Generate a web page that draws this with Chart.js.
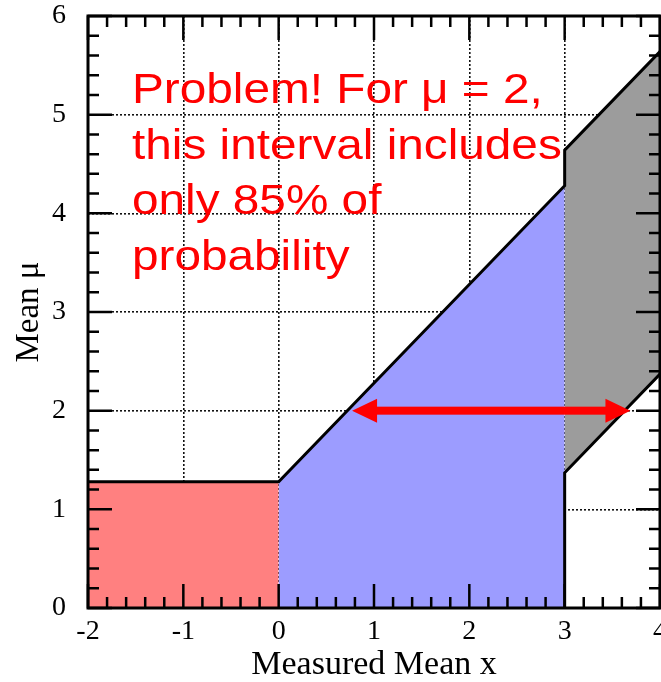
<!DOCTYPE html>
<html lang="en">
<head>
  <meta charset="UTF-8">
  <title>Confidence belt - Mean μ vs Measured Mean x</title>
  <script src="https://cdn.jsdelivr.net/npm/chart.js"></script>
  <style>
    html, body { margin: 0; padding: 0; background: #fff; }
    #wrap { width: 661px; height: 682px; }
  </style>
</head>
<body>
  <div id="wrap"><canvas id="beltChart"></canvas></div>

  <script>
    // upper edge of the belt: flat for x < 0, diagonal, then a jump at x = 3
    const xUpper = [-2, 0, 3, 3, 4];
    const muUpper = [1.28, 1.28, 4.28, 4.64, 5.64];
    // lower edge only starts at x = 3
    const xLower = [3, 3, 4];
    const muLower = [0, 1.37, 2.37];
    // horizontal arrow showing the interval at mu = 2
    const arrowMu = 2;
    const arrowX = [0.77, 3.69];
    const xTicks = [-2, -1, 0, 1, 2, 3, 4];
    const muTicks = [0, 1, 2, 3, 4, 5, 6];
    const noteLines = ['Problem! For μ = 2,', 'this interval includes', 'only 85% of', 'probability'];

    const pts = (xs, ys) => xs.map((x, i) => ({ x: x, y: ys[i] }));
    const upper = pts(xUpper, muUpper);
    const lower = pts(xLower, muLower);
    const clear = 'rgba(0,0,0,0)';

    // frame with inward major/minor ticks on all four sides, then arrow and note
    const decorations = {
      id: 'decorations',
      afterDraw(chart) {
        const { ctx, chartArea: a, scales } = chart;
        const xs = scales.x, ys = scales.y;
        ctx.save();
        ctx.strokeStyle = '#000';

        const minors = ticks => {
          const out = [];
          for (let i = 0; i < ticks.length - 1; i++) {
            const step = (ticks[i + 1] - ticks[i]) / 5;
            for (let k = 1; k < 5; k++) out.push(ticks[i] + k * step);
          }
          return out;
        };

        ctx.lineWidth = 2.5;
        ctx.beginPath();
        const tickX = (v, len) => {
          const p = xs.getPixelForValue(v);
          ctx.moveTo(p, a.bottom); ctx.lineTo(p, a.bottom - len);
          ctx.moveTo(p, a.top); ctx.lineTo(p, a.top + len);
        };
        const tickY = (v, len) => {
          const p = ys.getPixelForValue(v);
          ctx.moveTo(a.left, p); ctx.lineTo(a.left + len, p);
          ctx.moveTo(a.right, p); ctx.lineTo(a.right - len, p);
        };
        xTicks.forEach(v => tickX(v, 24));
        minors(xTicks).forEach(v => tickX(v, 11));
        muTicks.forEach(v => tickY(v, 24));
        minors(muTicks).forEach(v => tickY(v, 11));
        ctx.stroke();

        ctx.lineWidth = 3;
        ctx.strokeRect(a.left, a.top, a.right - a.left, a.bottom - a.top);

        // double headed arrow
        const y = ys.getPixelForValue(arrowMu);
        const x0 = xs.getPixelForValue(arrowX[0]);
        const x1 = xs.getPixelForValue(arrowX[1]);
        const head = 25, half = 12;
        ctx.fillStyle = '#ff0000';
        ctx.fillRect(x0 + head - 1, y - 4, x1 - x0 - 2 * head + 2, 8);
        ctx.beginPath();
        ctx.moveTo(x0, y); ctx.lineTo(x0 + head, y - half); ctx.lineTo(x0 + head, y + half);
        ctx.closePath();
        ctx.moveTo(x1, y); ctx.lineTo(x1 - head, y - half); ctx.lineTo(x1 - head, y + half);
        ctx.closePath();
        ctx.fill();

        // note text, slightly wide lettering
        ctx.font = '43px "Liberation Sans", Arial, sans-serif';
        ctx.textAlign = 'left';
        ctx.textBaseline = 'alphabetic';
        ctx.translate(a.left + 44, a.top + 87);
        ctx.scale(1.11, 1);
        noteLines.forEach((t, i) => ctx.fillText(t, 0, i * 55.7));
        ctx.restore();
      }
    };

    const ctx = document.getElementById('beltChart').getContext('2d');
    new Chart(ctx, {
      type: 'line',
      data: {
        datasets: [
          { data: upper, borderColor: '#000', borderWidth: 3, fill: false },
          { data: lower, borderColor: '#000', borderWidth: 3, fill: false },
          { data: upper.slice(3), borderColor: clear, borderWidth: 0, fill: '+1', backgroundColor: '#9c9c9c' },
          { data: lower.slice(1), borderColor: clear, borderWidth: 0, fill: false },
          { data: upper.slice(1, 3), borderColor: clear, borderWidth: 0, fill: 'origin', backgroundColor: '#9c9cff' },
          { data: upper.slice(0, 2), borderColor: clear, borderWidth: 0, fill: 'origin', backgroundColor: '#ff8080' }
        ]
      },
      options: {
        responsive: true,
        maintainAspectRatio: false,
        animation: false,
        elements: { point: { radius: 0 }, line: { tension: 0 } },
        layout: { padding: { top: 16, right: 1, left: 0, bottom: 0 } },
        plugins: { legend: { display: false }, tooltip: { enabled: false } },
        scales: {
          x: {
            type: 'linear', min: -2, max: 4, z: 1,
            afterFit(s) { s.height = 74; s.paddingLeft = 0; s.paddingRight = 0; },
            afterBuildTicks(s) { s.ticks = xTicks.map(v => ({ value: v })); },
            grid: { color: '#111', lineWidth: 1.6, drawTicks: false },
            border: { display: false, dash: [2, 2] },
            ticks: { padding: 7, color: '#000', maxRotation: 0, font: { family: 'Liberation Serif', size: 28 } },
            title: { display: true, text: 'Measured Mean x', color: '#000', padding: 0,
                     font: { family: 'Liberation Serif', size: 34, lineHeight: 1 } }
          },
          y: {
            type: 'linear', min: 0, max: 6, z: 1,
            afterFit(s) { s.width = 88; s.paddingTop = 0; s.paddingBottom = 0; },
            afterBuildTicks(s) { s.ticks = muTicks.map(v => ({ value: v })); },
            grid: { color: '#111', lineWidth: 1.6, drawTicks: false },
            border: { display: false, dash: [2, 2] },
            ticks: { padding: 22, color: '#000', font: { family: 'Liberation Serif', size: 28 } },
            title: { display: true, text: 'Mean μ', color: '#000', padding: { top: 10, bottom: 0 },
                     font: { family: 'Liberation Serif', size: 33 } }
          }
        }
      },
      plugins: [decorations]
    });
  </script>
</body>
</html>
